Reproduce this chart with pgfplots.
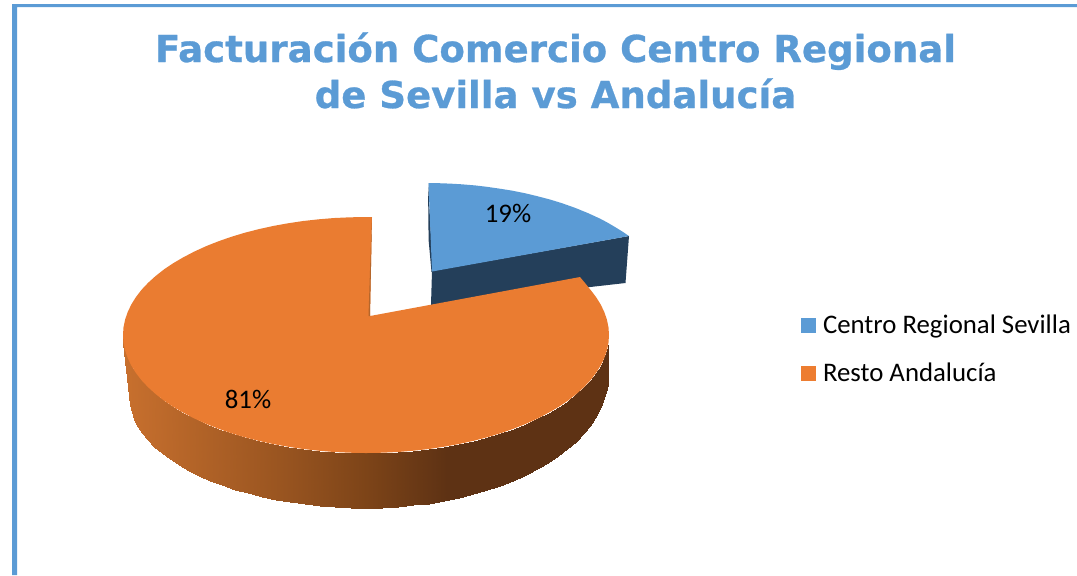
\documentclass[border=0pt]{standalone}
\usepackage{fontspec}
\usepackage{pgfplots}
\pgfplotsset{compat=1.18}
\setmainfont{Carlito}
\newfontfamily\titlefont[BoldFeatures={FakeBold=0.7}]{DejaVu Sans}
\definecolor{cblue}{HTML}{5B9BD5}
\definecolor{cdblue}{HTML}{243F5A}
\definecolor{corange}{HTML}{EA7C31}
\definecolor{clegor}{HTML}{ED7D31}
\definecolor{csliver}{HTML}{B5662B}
\begin{document}
\begin{tikzpicture}
\begin{axis}[
  scale only axis, width=1077pt, height=575pt,
  xmin=0, xmax=1077, ymin=0, ymax=575, zmin=-1, zmax=1,
  y dir=reverse, view={0}{90}, hide axis, clip=false,
  colormap={pieside}{rgb255(0cm)=(200,112,46) rgb255(2cm)=(152,84,32) rgb255(3cm)=(125,68,24) rgb255(4cm)=(94,50,20) rgb255(6cm)=(94,50,20)},
  point meta min=123, point meta max=609,
]
% page corners
\addplot3[draw=none, forget plot] coordinates {(0,0,0) (1077,575,0)};
% frame
\addplot3[draw=none, fill=cblue, forget plot] coordinates {(12,575,0) (12,4,0) (1077,4,0) (1077,7,0) (17,7,0) (17,575,0)};
% detached slice, side
\addplot3[draw=none, fill=cdblue, forget plot] coordinates {(432,271,0) (629,236,0) (625.5,283,0) (431,305,0)};
\addplot3[draw=none, fill=cdblue, forget plot] coordinates {(428,183,0) (428.6,240,0) (431.5,272,0) (433,271,0)};
% detached slice, top
\addplot3[draw=none, fill=cblue, forget plot] coordinates {(432,271.5,0) (428.5,183,0) (439,183.2,0) (450,183.6,0) (462,184.3,0) (475,185.4,0) (487,186.8,0) (500,188.7,0) (512,190.6,0) (525,193.2,0) (537,196.1,0) (550,199.5,0) (562,203.2,0) (575,207.8,0) (588,213.1,0) (600,218.6,0) (607,222.3,0) (615,227,0) (622,231.3,0) (629,236,0)};
% large slice, rim
\addplot3[surf, shader=interp, mesh/rows=2, point meta=x, forget plot] coordinates {
(123,335,0) (123.5,342.7,0) (125.1,350.4,0) (127.7,358,0) (131.3,365.5,0) (135.9,372.9,0) (141.5,380.2,0) (148.1,387.2,0) (155.6,394,0) (164,400.6,0) (173.2,406.8,0) (183.3,412.7,0) (194.2,418.4,0) (205.8,423.7,0) (218.1,428.6,0) (231,433.1,0) (244.5,437.2,0) (258.5,440.8,0) (273,444,0) (287.9,446.7,0) (303.1,449,0) (318.6,450.7,0) (334.3,452,0) (350.1,452.7,0) (366,453,0) (381.9,452.7,0) (397.7,452,0) (413.4,450.7,0) (428.9,449,0) (444.1,446.7,0) (459,444,0) (473.5,440.8,0) (487.5,437.2,0) (501,433.1,0) (513.9,428.6,0) (526.2,423.7,0) (537.8,418.4,0) (548.7,412.7,0) (558.8,406.8,0) (568,400.6,0) (576.4,394,0) (583.9,387.2,0) (590.5,380.2,0) (596.1,372.9,0) (600.7,365.5,0) (604.3,358,0) (606.9,350.4,0) (608.5,342.7,0) (609,335,0)

(130,398,0) (130.5,405.2,0) (132,412.4,0) (134.5,419.5,0) (138.1,426.5,0) (142.5,433.4,0) (148,440.1,0) (154.3,446.7,0) (161.6,453,0) (169.8,459.1,0) (178.8,465,0) (188.6,470.5,0) (199.1,475.8,0) (210.4,480.7,0) (222.3,485.3,0) (234.9,489.5,0) (248,493.3,0) (261.6,496.7,0) (275.7,499.6,0) (290.1,502.2,0) (304.9,504.3,0) (320,505.9,0) (335.2,507.1,0) (350.6,507.8,0) (366,508,0) (381.8,507.7,0) (397.6,506.9,0) (413.2,505.4,0) (428.6,503.5,0) (443.8,500.9,0) (458.6,497.9,0) (473,494.3,0) (487,490.2,0) (500.4,485.6,0) (513.3,480.5,0) (525.6,475,0) (537.1,469,0) (547.9,462.7,0) (558,456,0) (567.2,448.9,0) (575.6,441.5,0) (583,433.8,0) (589.6,425.9,0) (595.2,417.8,0) (599.8,409.4,0) (603.4,400.9,0) (605.9,392.4,0) (607.5,383.7,0) (608,375,0)
};
% large slice, top
\addplot3[draw=none, fill=corange, forget plot] coordinates {
(370,316,0) (372,217,0) (366,217,0) (350.1,217.3,0) (334.3,218,0) (318.6,219.3,0) (303.1,221,0) (287.9,223.3,0) (273,226,0) (258.5,229.2,0) (244.5,232.8,0) (231,236.9,0) (218.1,241.4,0) (205.8,246.3,0) (194.2,251.6,0) (183.3,257.3,0) (173.2,263.2,0) (164,269.4,0) (155.6,276,0) (148.1,282.8,0) (141.5,289.8,0) (135.9,297.1,0) (131.3,304.5,0) (127.7,312,0) (125.1,319.6,0) (123.5,327.3,0)
(123,335,0) (123.5,342.7,0) (125.1,350.4,0) (127.7,358,0) (131.3,365.5,0) (135.9,372.9,0) (141.5,380.2,0) (148.1,387.2,0) (155.6,394,0) (164,400.6,0) (173.2,406.8,0) (183.3,412.7,0) (194.2,418.4,0) (205.8,423.7,0) (218.1,428.6,0) (231,433.1,0) (244.5,437.2,0) (258.5,440.8,0) (273,444,0) (287.9,446.7,0) (303.1,449,0) (318.6,450.7,0) (334.3,452,0) (350.1,452.7,0) (366,453,0) (381.9,452.7,0) (397.7,452,0) (413.4,450.7,0) (428.9,449,0) (444.1,446.7,0) (459,444,0) (473.5,440.8,0) (487.5,437.2,0) (501,433.1,0) (513.9,428.6,0) (526.2,423.7,0) (537.8,418.4,0) (548.7,412.7,0) (558.8,406.8,0) (568,400.6,0) (576.4,394,0) (583.9,387.2,0) (590.5,380.2,0) (596.1,372.9,0) (600.7,365.5,0) (604.3,358,0) (606.9,350.4,0) (608.5,342.7,0) (609,335,0)
(608.5,327.3,0) (606.9,319.6,0) (604.3,312,0) (600.7,304.5,0) (596.1,297.1,0) (590.5,289.8,0) (585,283,0) (580,277,0)};
\addplot3[draw=none, fill=csliver, forget plot] coordinates {(372,217,0) (370,316,0) (368.5,316,0) (371,240,0)};
% legend keys
\addplot3[draw=none, fill=cblue, forget plot] coordinates {(801,318,0) (816,318,0) (816,333,0) (801,333,0)};
\addplot3[draw=none, fill=clegor, forget plot] coordinates {(801,366,0) (816,366,0) (816,381,0) (801,381,0)};
% text
\node[inner sep=0pt, outer sep=0pt, anchor=base, text=cblue, font=\titlefont\bfseries\fontsize{37.1}{46}\selectfont] at (axis cs:555.5,62,0) {Facturación Comercio Centro Regional};
\node[inner sep=0pt, outer sep=0pt, anchor=base, text=cblue, font=\titlefont\bfseries\fontsize{37.1}{46}\selectfont] at (axis cs:555.5,108,0) {de Sevilla vs Andalucía};
\node[inner sep=0pt, outer sep=0pt, anchor=base, font=\fontsize{26.8}{30}\selectfont] at (axis cs:508,222,0) {19\%};
\node[inner sep=0pt, outer sep=0pt, anchor=base, font=\fontsize{26.8}{30}\selectfont] at (axis cs:248,408,0) {81\%};
\node[inner sep=0pt, outer sep=0pt, anchor=base west, font=\fontsize{26.8}{30}\selectfont] at (axis cs:823,333,0) {Centro Regional Sevilla};
\node[inner sep=0pt, outer sep=0pt, anchor=base west, font=\fontsize{26.8}{30}\selectfont] at (axis cs:823,381,0) {Resto Andalucía};
\end{axis}
\end{tikzpicture}
\end{document}
